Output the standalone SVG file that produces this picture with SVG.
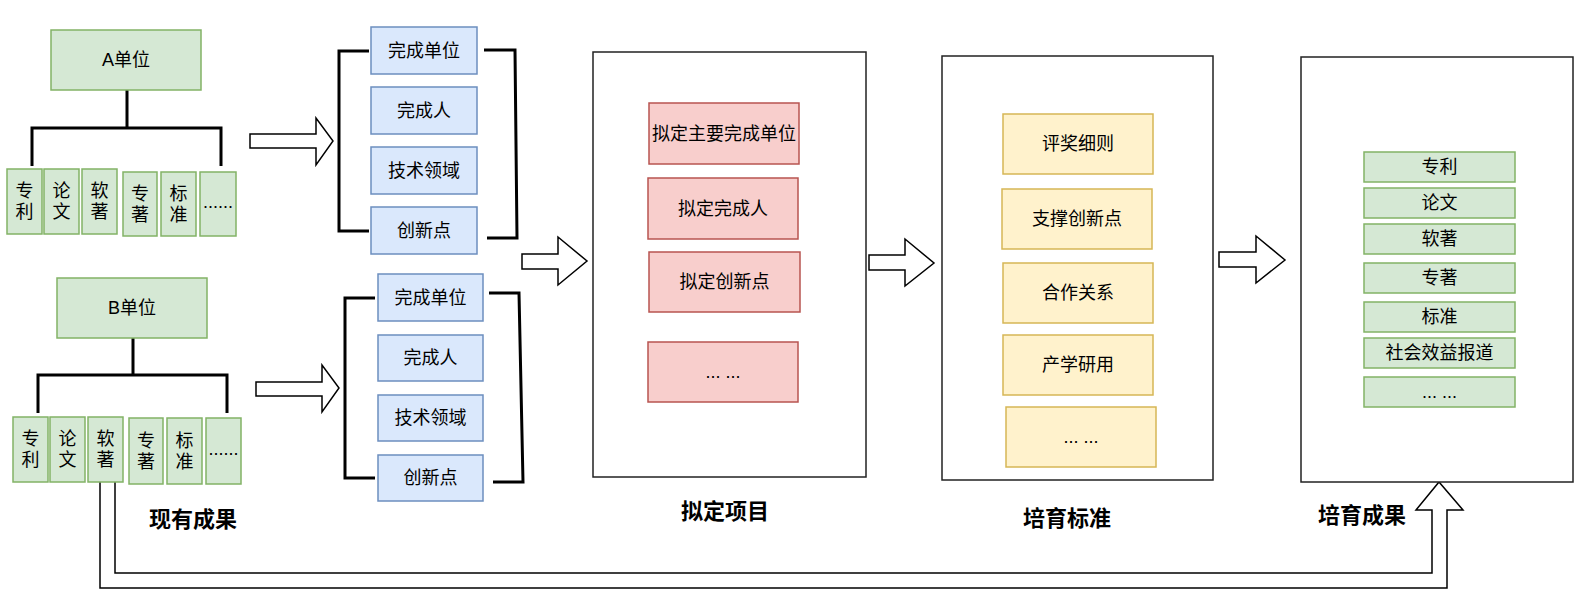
<svg xmlns="http://www.w3.org/2000/svg" width="1593" height="599" viewBox="0 0 1593 599">
<style>
text{font-family:"Liberation Sans","Noto Sans CJK SC",sans-serif;font-size:18px;fill:#000;text-anchor:middle;dominant-baseline:central}
.t{font-size:22px;font-weight:bold}
.g{fill:#d5e8d4;stroke:#82b366;stroke-width:1.5}
.b{fill:#dae8fc;stroke:#6c8ebf;stroke-width:1.5}
.r{fill:#f8cecc;stroke:#b85450;stroke-width:1.5}
.y{fill:#fff2cc;stroke:#d6b656;stroke-width:1.5}
.frame{fill:#fff;stroke:#222;stroke-width:1.5}
.line{fill:none;stroke:#000;stroke-width:3}
.arr{fill:#fff;stroke:#000;stroke-width:1.5;stroke-linejoin:miter}
</style>
<rect width="1593" height="599" fill="#fff"/>

<g id="connectors">
<path class="line" d="M127,90 V128 M32,166 V128 H221 V166"/>
<path class="line" d="M133,338 V375 M38,413 V375 H227 V413"/>
<path class="line" d="M369,51 H339 V231 H369"/>
<path class="line" d="M484,50 H515 L517,238 H487"/>
<path class="line" d="M375,298 H345 V478 H375"/>
<path class="line" d="M489,293 H519 L523,482 H493"/>
<polygon class="arr" points="250,134 316,134 316,118 333,141 316,165 316,148 250,148"/>
<polygon class="arr" points="256,382 322,382 322,365 339,388 322,412 322,396 256,396"/>
<polygon class="arr" points="522,254 558,254 558,237 587,261 558,285 558,269 522,269"/>
<polygon class="arr" points="869,255 905,255 905,239 934,263 905,286 905,270 869,270"/>
<polygon class="arr" points="1219,252 1256,252 1256,236 1285,260 1256,283 1256,267 1219,267"/>
<path class="arr" d="M100,482 V588 H1447 V510 H1463 L1439,482 L1416,510 H1432 V573 H115 V482"/>
</g>

<g id="unitA">
<rect class="g" x="51" y="30" width="150" height="60"/>
<text x="126" y="60">A单位</text>
</g>
<g id="a-zhuanli"><rect class="g" x="7" y="169" width="35" height="65"/><text x="24.5" y="191">专</text><text x="24.5" y="212">利</text></g>
<g id="a-lunwen"><rect class="g" x="44" y="169" width="35" height="65"/><text x="61.5" y="191">论</text><text x="61.5" y="212">文</text></g>
<g id="a-ruanzhu"><rect class="g" x="82" y="169" width="35" height="65"/><text x="99.5" y="191">软</text><text x="99.5" y="212">著</text></g>
<g id="a-zhuanzhu"><rect class="g" x="123" y="172" width="34" height="64"/><text x="140" y="193.5">专</text><text x="140" y="214.5">著</text></g>
<g id="a-biaozhun"><rect class="g" x="161" y="172" width="35" height="64"/><text x="178.5" y="193.5">标</text><text x="178.5" y="214.5">准</text></g>
<g id="a-more"><rect class="g" x="200" y="172" width="36" height="64"/><text x="218" y="202">......</text></g>

<g id="unitB">
<rect class="g" x="57" y="278" width="150" height="60"/>
<text x="132" y="308">B单位</text>
</g>
<g id="b-zhuanli"><rect class="g" x="13" y="417" width="35" height="65"/><text x="30.5" y="439">专</text><text x="30.5" y="460">利</text></g>
<g id="b-lunwen"><rect class="g" x="50" y="417" width="35" height="65"/><text x="67.5" y="439">论</text><text x="67.5" y="460">文</text></g>
<g id="b-ruanzhu"><rect class="g" x="88" y="417" width="35" height="65"/><text x="105.5" y="439">软</text><text x="105.5" y="460">著</text></g>
<g id="b-zhuanzhu"><rect class="g" x="129" y="418" width="34" height="66"/><text x="146" y="440.5">专</text><text x="146" y="461.5">著</text></g>
<g id="b-biaozhun"><rect class="g" x="167" y="418" width="35" height="66"/><text x="184.5" y="440.5">标</text><text x="184.5" y="461.5">准</text></g>
<g id="b-more"><rect class="g" x="206" y="418" width="35" height="66"/><text x="223.5" y="449">......</text></g>

<g id="title-existing"><text class="t" x="193" y="519">现有成果</text></g>

<g id="a-unit"><rect class="b" x="371" y="27" width="106" height="47"/><text x="424" y="50.5">完成单位</text></g>
<g id="a-person"><rect class="b" x="371" y="87" width="106" height="47"/><text x="424" y="110.5">完成人</text></g>
<g id="a-field"><rect class="b" x="371" y="147" width="106" height="47"/><text x="424" y="170.5">技术领域</text></g>
<g id="a-innov"><rect class="b" x="371" y="207" width="106" height="47"/><text x="424" y="230.5">创新点</text></g>

<g id="b-unit"><rect class="b" x="378" y="274" width="105" height="47"/><text x="430.5" y="297.5">完成单位</text></g>
<g id="b-person"><rect class="b" x="378" y="335" width="105" height="46"/><text x="430.5" y="358">完成人</text></g>
<g id="b-field"><rect class="b" x="378" y="395" width="105" height="46"/><text x="430.5" y="418">技术领域</text></g>
<g id="b-innov"><rect class="b" x="378" y="455" width="105" height="46"/><text x="430.5" y="478">创新点</text></g>

<g id="project">
<rect class="frame" x="593" y="52" width="273" height="425"/>
<text class="t" x="725" y="511">拟定项目</text>
</g>
<g id="p1"><rect class="r" x="649" y="103" width="150" height="61"/><text x="724" y="133.5">拟定主要完成单位</text></g>
<g id="p2"><rect class="r" x="648" y="178" width="150" height="61"/><text x="723" y="208.5">拟定完成人</text></g>
<g id="p3"><rect class="r" x="649" y="252" width="151" height="60"/><text x="724.5" y="282">拟定创新点</text></g>
<g id="p4"><rect class="r" x="648" y="342" width="150" height="60"/><text x="723" y="372">... ...</text></g>

<g id="standard">
<rect class="frame" x="942" y="56" width="271" height="424"/>
<text class="t" x="1067" y="518">培育标准</text>
</g>
<g id="s1"><rect class="y" x="1003" y="114" width="150" height="60"/><text x="1078" y="144">评奖细则</text></g>
<g id="s2"><rect class="y" x="1002" y="189" width="150" height="60"/><text x="1077" y="219">支撑创新点</text></g>
<g id="s3"><rect class="y" x="1003" y="263" width="150" height="60"/><text x="1078" y="293">合作关系</text></g>
<g id="s4"><rect class="y" x="1003" y="335" width="150" height="60"/><text x="1078" y="365">产学研用</text></g>
<g id="s5"><rect class="y" x="1006" y="407" width="150" height="60"/><text x="1081" y="437">... ...</text></g>

<g id="result">
<rect class="frame" x="1301" y="57" width="272" height="425"/>
<text class="t" x="1362" y="515">培育成果</text>
</g>
<g id="r1"><rect class="g" x="1364" y="152" width="151" height="30"/><text x="1439.5" y="167">专利</text></g>
<g id="r2"><rect class="g" x="1364" y="188" width="151" height="30"/><text x="1439.5" y="203">论文</text></g>
<g id="r3"><rect class="g" x="1364" y="224" width="151" height="30"/><text x="1439.5" y="239">软著</text></g>
<g id="r4"><rect class="g" x="1364" y="263" width="151" height="30"/><text x="1439.5" y="278">专著</text></g>
<g id="r5"><rect class="g" x="1364" y="302" width="151" height="30"/><text x="1439.5" y="317">标准</text></g>
<g id="r6"><rect class="g" x="1364" y="338" width="151" height="30"/><text x="1439.5" y="353">社会效益报道</text></g>
<g id="r7"><rect class="g" x="1364" y="377" width="151" height="30"/><text x="1439.5" y="392">... ...</text></g>
</svg>
